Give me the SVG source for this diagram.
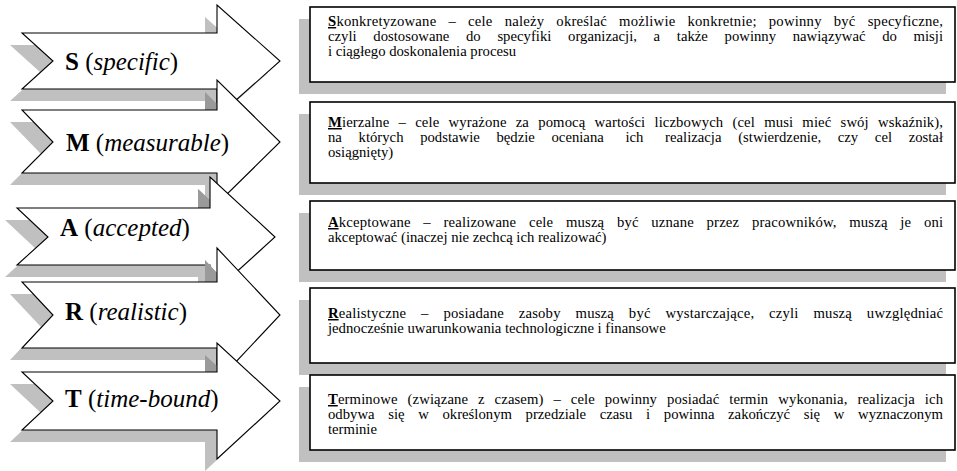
<svg xmlns="http://www.w3.org/2000/svg" width="957" height="471" viewBox="0 0 957 471">
<style>
  .bg{fill:#ffffff}
  .shadow{fill:#c0c0c0;stroke:none}
  .patch{fill:#9a9a9a;stroke:none}
  .arrow{fill:#ffffff;stroke:#000000;stroke-width:1.1;stroke-linejoin:miter}
  .box{fill:#ffffff;stroke:#000000;stroke-width:1.6}
  .lbl{font-family:"Liberation Serif","Times New Roman",serif;font-size:25px;fill:#000}
  .b{font-weight:bold}
  .i{font-style:italic}
  .desc{font-family:"Liberation Serif","Times New Roman",serif;font-size:14.7px;fill:#000}
  .ini{font-weight:bold;text-decoration:underline}
</style>
<rect class="bg" x="0" y="0" width="957" height="471"/>

<!-- arrows -->
<g id="arrow-S">
  <polygon class="shadow" points="10,45 205,45 205,17 268,73 205,129 205,101 10,101 41,73"/>
  <polygon class="arrow" points="22,33 217,33 217,5 280,61 217,117 217,89 22,89 53,61"/>
  <text class="lbl" x="65" y="70"><tspan class="b">S</tspan> (<tspan class="i">specific</tspan>)</text>
</g>
<g id="arrow-M">
  <polygon class="shadow" points="10,122 205,122 205,92 268,154 205,216 205,185 10,185 41,154"/>
  <polygon class="patch" points="205,92 217,104 217,110 205,110"/>
  <polygon class="arrow" points="22,110 217,110 217,80 280,142 217,204 217,173 22,173 53,142"/>
  <text class="lbl" x="66" y="151"><tspan class="b">M</tspan> (<tspan class="i">measurable</tspan>)</text>
</g>
<g id="arrow-A">
  <polygon class="shadow" points="5,220 198,220 198,189 263,249 198,308 198,277 5,277 36,249"/>
  <polygon class="patch" points="198,189 210,200 210,208 198,208"/>
  <polygon class="arrow" points="17,208 210,208 210,177 275,237 210,296 210,265 17,265 48,237"/>
  <text class="lbl" x="60" y="236"><tspan class="b">A</tspan> (<tspan class="i">accepted</tspan>)</text>
</g>
<g id="arrow-R">
  <polygon class="shadow" points="10,294 205,294 205,260 268,327 205,394 205,360 10,360 41,327"/>
  <polygon class="patch" points="205,260 217,273 217,282 205,282"/>
  <polygon class="arrow" points="22,282 217,282 217,248 280,315 217,382 217,348 22,348 53,315"/>
  <text class="lbl" x="65" y="320"><tspan class="b">R</tspan> (<tspan class="i">realistic</tspan>)</text>
</g>
<g id="arrow-T">
  <polygon class="shadow" points="10,384 205,384 205,355 268,413 205,471 205,442 10,442 41,413"/>
  <polygon class="patch" points="205,355 217,366 217,372 205,372"/>
  <polygon class="arrow" points="22,372 217,372 217,343 280,401 217,459 217,430 22,430 53,401"/>
  <text class="lbl" x="65" y="407"><tspan class="b">T</tspan> (<tspan class="i">time-bound</tspan>)</text>
</g>

<!-- description boxes -->
<g id="desc-S">
  <rect class="shadow" x="299" y="19" width="647" height="75"/>
  <rect class="box" x="310" y="7" width="645" height="75"/>
  <text class="desc" x="328" y="26" style="word-spacing:8.2px" textLength="615" lengthAdjust="spacing"><tspan class="ini">S</tspan>konkretyzowane – cele należy określać możliwie konkretnie; powinny być specyficzne,</text>
  <text class="desc" x="328" y="41" style="word-spacing:13px" textLength="615" lengthAdjust="spacing">czyli dostosowane do specyfiki organizacji, a także powinny nawiązywać do misji</text>
  <text class="desc" x="328" y="56">i ciągłego doskonalenia procesu</text>
</g>
<g id="desc-M">
  <rect class="shadow" x="299" y="114" width="647" height="81"/>
  <rect class="box" x="310" y="102" width="645" height="81"/>
  <text class="desc" x="328" y="127" style="word-spacing:5.4px" textLength="615" lengthAdjust="spacing"><tspan class="ini">M</tspan>ierzalne – cele wyrażone za pomocą wartości liczbowych (cel musi mieć swój wskaźnik),</text>
  <text class="desc" x="328" y="142" style="word-spacing:13px" textLength="615" lengthAdjust="spacing">na których podstawie będzie oceniana <tspan dx="5">ich</tspan> <tspan dx="5">realizacja</tspan> (stwierdzenie, czy cel został</text>
  <text class="desc" x="328" y="157">osiągnięty)</text>
</g>
<g id="desc-A">
  <rect class="shadow" x="299" y="213" width="647" height="69"/>
  <rect class="box" x="310" y="201" width="645" height="69"/>
  <text class="desc" x="328" y="227" style="word-spacing:8.8px" textLength="615" lengthAdjust="spacing"><tspan class="ini">A</tspan>kceptowane – realizowane cele muszą być uznane przez pracowników, muszą je oni</text>
  <text class="desc" x="328" y="242">akceptować (inaczej nie zechcą ich realizować)</text>
</g>
<g id="desc-R">
  <rect class="shadow" x="299" y="300" width="647" height="75"/>
  <rect class="box" x="310" y="288" width="645" height="75"/>
  <text class="desc" x="328" y="318" style="word-spacing:11px" textLength="615" lengthAdjust="spacing"><tspan class="ini">R</tspan>ealistyczne – posiadane zasoby muszą być wystarczające, czyli muszą uwzględniać</text>
  <text class="desc" x="328" y="333">jednocześnie uwarunkowania technologiczne i finansowe</text>
</g>
<g id="desc-T">
  <rect class="shadow" x="299" y="387" width="647" height="75"/>
  <rect class="box" x="310" y="375" width="645" height="75"/>
  <text class="desc" x="328" y="404" style="word-spacing:6.1px" textLength="615" lengthAdjust="spacing"><tspan class="ini">T</tspan>erminowe (związane z czasem) – cele powinny posiadać termin wykonania, realizacja ich</text>
  <text class="desc" x="328" y="419" style="word-spacing:10px" textLength="615" lengthAdjust="spacing">odbywa się w określonym przedziale czasu i powinna zakończyć się w wyznaczonym</text>
  <text class="desc" x="328" y="434">terminie</text>
</g>
<g id="connectors"/>
</svg>
